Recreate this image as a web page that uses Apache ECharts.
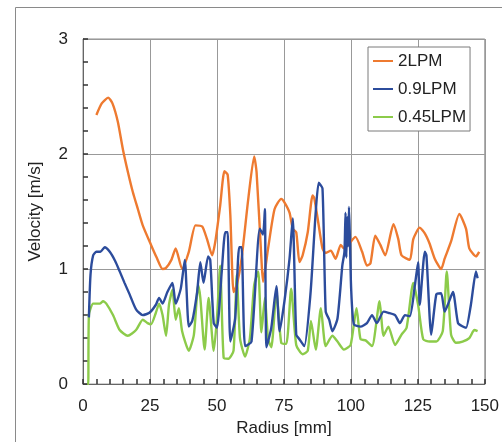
<!DOCTYPE html>
<html><head><meta charset="utf-8">
<script src="https://cdn.jsdelivr.net/npm/echarts@6/dist/echarts.min.js"></script>
<style>html,body{margin:0;padding:0;background:#fff}#c{width:502px;height:442px}</style>
</head><body><div id="c"></div>
<script>
var seriesNames = ['2LPM', '0.9LPM', '0.45LPM'];
var xTicks = [0, 25, 50, 75, 100, 125, 150];
var yTicks = [0, 1, 2, 3];

var r2 = [5, 7, 9.4, 11, 13, 14.9, 16.8, 18.6, 20.5, 22.3, 25.4, 27.5, 29.7, 31, 33, 34.6, 37, 39.5, 42, 44.5, 46.3, 48.2, 49.4, 51.2, 52.8, 54, 55, 56.2, 57.4, 59.2, 61.7, 63.9, 64.8, 66.6, 67.2, 69.1, 71.5, 74, 75.2, 77.1, 78.3, 79.6, 80.8, 82, 83.9, 85.7, 86.3, 87.6, 89.4, 90.6, 92.5, 94.3, 96.2, 97.4, 99.3, 101.7, 104.2, 106, 107.3, 109.1, 111, 112.8, 115.9, 117.7, 118.9, 122, 123.3, 125.7, 127.6, 129.4, 131.3, 133.7, 135, 137.4, 140.5, 143, 144.2, 146.7, 147.9];
var v2 = [2.34, 2.44, 2.49, 2.44, 2.28, 2.04, 1.84, 1.67, 1.52, 1.38, 1.21, 1.1, 1.0, 1.01, 1.08, 1.18, 1.0, 1.15, 1.38, 1.37, 1.26, 1.12, 1.24, 1.55, 1.85, 1.82, 1.47, 0.8, 0.86, 1.09, 1.61, 1.98, 1.84, 1.09, 0.89, 1.18, 1.52, 1.61, 1.58, 1.49, 1.35, 1.32, 1.06, 1.12, 1.32, 1.64, 1.62, 1.44, 1.18, 1.14, 1.16, 1.09, 1.21, 1.18, 1.22, 1.28, 1.15, 1.03, 1.05, 1.29, 1.21, 1.12, 1.39, 1.26, 1.12, 1.08, 1.26, 1.36, 1.31, 1.22, 1.09, 1.0, 1.09, 1.24, 1.48, 1.35, 1.18, 1.11, 1.15];

var r09 = [2.2, 2.8, 3.8, 5, 6.5, 8.1, 10, 12, 13.7, 15.5, 17.4, 19.8, 22.3, 24.8, 27.2, 28.4, 29.7, 31.5, 33.4, 34.6, 36.5, 38, 39.5, 40.8, 42.6, 43.8, 45, 46.7, 47.5, 48.8, 50, 51.8, 53.1, 54, 55, 56.8, 58.3, 59.2, 60.5, 62.9, 66, 67.2, 67.9, 68.5, 70.3, 72.2, 73.4, 75.2, 77.1, 78.3, 79.6, 80.8, 82.6, 84.9, 86.8, 88, 89.4, 90.6, 91.9, 93.1, 95, 96.8, 97.6, 98, 98.3, 98.6, 99, 99.3, 99.6, 100.1, 101.1, 103.6, 106, 107.9, 109.7, 112.2, 114, 116.5, 118.3, 120.2, 122, 123.9, 125.1, 125.7, 127.6, 128.2, 130, 131.9, 133.7, 135, 136.2, 138.1, 140, 141.8, 143, 144.8, 146.7, 147.3];
var v09 = [0.58, 0.95, 1.12, 1.15, 1.15, 1.19, 1.15, 1.07, 0.98, 0.88, 0.78, 0.65, 0.6, 0.62, 0.69, 0.75, 0.7, 0.8, 0.88, 0.7, 0.83, 1.08, 0.5, 0.55, 0.8, 1.06, 0.88, 1.11, 1.08, 0.53, 0.49, 0.98, 1.32, 1.32, 0.37, 0.57, 1.19, 1.19, 0.33, 0.37, 1.35, 1.3, 1.52, 0.32, 0.49, 0.85, 0.46, 0.72, 1.09, 1.44, 0.43, 0.39, 0.33, 0.78, 1.47, 1.75, 1.7, 0.63, 0.56, 0.46, 0.57, 1.03, 1.15, 1.49, 1.1, 1.45, 1.2, 1.54, 1.3, 0.83, 0.52, 0.5, 0.53, 0.6, 0.53, 0.63, 0.62, 0.6, 0.53, 0.6, 0.59, 0.86, 1.06, 0.69, 1.15, 1.12, 0.43, 0.78, 0.79, 0.63, 0.69, 0.8, 0.53, 0.5, 0.49, 0.69, 0.98, 0.92];

var r045 = [1.6, 1.96, 2.2, 3.8, 6.3, 7.5, 8.7, 11.2, 13.7, 16.7, 19.8, 22.3, 24.1, 25.4, 27.2, 28.4, 29.7, 31, 32.1, 33.4, 34.6, 35.8, 37, 39.5, 41.4, 43, 43.8, 45.4, 46.9, 48.8, 50, 51.2, 52.5, 54.3, 56.2, 57.4, 58.6, 60.5, 62.3, 63.9, 65.4, 66.6, 67.9, 69.1, 70.3, 72.2, 74, 75.9, 77.7, 79.6, 82, 83.9, 85.1, 86.9, 88.8, 90.6, 93.1, 95, 97.4, 99.9, 102.1, 103.6, 105.5, 107.9, 110.7, 112.2, 114, 116.5, 118.9, 120.8, 123.3, 125.1, 127, 129.4, 131.9, 134.3, 135.8, 137.4, 139.2, 141.7, 144.2, 146.1, 147.3];
var v045 = [0, 0.0, 0.6, 0.7, 0.7, 0.72, 0.7, 0.6, 0.47, 0.42, 0.47, 0.56, 0.53, 0.52, 0.62, 0.7, 0.6, 0.42, 0.69, 0.82, 0.56, 0.66, 0.46, 0.29, 0.43, 0.86, 0.75, 0.3, 0.75, 0.29, 0.57, 1.03, 0.23, 0.22, 0.29, 0.95, 0.4, 0.24, 0.4, 0.86, 0.98, 0.45, 0.75, 0.39, 0.32, 0.8, 0.36, 0.35, 0.83, 0.34, 0.26, 0.29, 0.55, 0.3, 0.66, 0.33, 0.42, 0.37, 0.3, 0.34, 0.66, 0.39, 0.38, 0.33, 0.72, 0.42, 0.5, 0.34, 0.43, 0.49, 0.88, 0.69, 0.39, 0.37, 0.37, 0.46, 0.98, 0.43, 0.36, 0.37, 0.4, 0.47, 0.46];

function pairs(xs, ys) { return xs.map(function (x, i) { return [x, ys[i]]; }); }

var colors = ['#EE7A30', '#2C4C9C', '#8CCB4A'];
var font = 'Liberation Sans, Arial, sans-serif';
var tickStyle = {color: '#333', width: 1.5};
var chart = echarts.init(document.getElementById('c'), null, {renderer: 'canvas'});
chart.setOption({
  animation: false,
  backgroundColor: '#fff',
  color: colors,
  graphic: [{type: 'rect', shape: {x: 15.5, y: 7.5, width: 600, height: 600}, style: {fill: 'none', stroke: '#8a8a8a', lineWidth: 1}, z: -1}],
  grid: {left: 83, top: 39, right: 13, bottom: 55, show: true, borderColor: '#8c8c8c', borderWidth: 1},
  legend: {
    orient: 'vertical', left: 368, top: 47,
    backgroundColor: '#fff', borderColor: '#7a7a7a', borderWidth: 1,
    padding: [4, 4, 4, 5], itemGap: 8, itemWidth: 20, itemHeight: 2, icon: 'rect',
    textStyle: {fontFamily: font, fontSize: 17, lineHeight: 20, color: '#222'},
    data: seriesNames
  },
  xAxis: [{
    type: 'value', min: 0, max: 150, interval: 25,
    name: 'Radius [mm]', nameLocation: 'middle', nameGap: 35,
    nameTextStyle: {fontFamily: font, fontSize: 17, color: '#222'},
    axisLine: {lineStyle: {color: '#666'}},
    axisTick: {show: false},
    axisLabel: {fontFamily: font, fontSize: 17, color: '#222', margin: 14, formatter: function (v) { return xTicks.indexOf(v) >= 0 ? String(v) : ''; }},
    splitLine: {show: true, lineStyle: {color: '#999', width: 1}}
  }, {
    type: 'value', min: 0, max: 150, interval: 5, position: 'bottom',
    axisLine: {show: false},
    axisTick: {show: true, inside: true, length: 5, lineStyle: tickStyle},
    axisLabel: {show: false}, splitLine: {show: false}
  }],
  yAxis: [{
    type: 'value', min: 0, max: 3, interval: 1,
    name: 'Velocity [m/s]', nameLocation: 'middle', nameGap: 39,
    nameTextStyle: {fontFamily: font, fontSize: 17, color: '#222'},
    axisLine: {show: true, lineStyle: {color: '#666'}},
    axisTick: {show: false},
    axisLabel: {fontFamily: font, fontSize: 17, color: '#222', margin: 15, formatter: function (v) { return yTicks.indexOf(v) >= 0 ? String(v) : ''; }},
    splitLine: {show: true, lineStyle: {color: '#999', width: 1}}
  }, {
    type: 'value', min: 0, max: 3, interval: 0.2, position: 'left',
    axisLine: {show: false},
    axisTick: {show: true, inside: true, length: 5, lineStyle: tickStyle},
    axisLabel: {show: false}, splitLine: {show: false}
  }],
  series: [
    {name: seriesNames[0], type: 'line', data: pairs(r2, v2), symbol: 'none', smooth: 0.2, lineStyle: {width: 2.4, color: colors[0]}, z: 3},
    {name: seriesNames[1], type: 'line', data: pairs(r09, v09), symbol: 'none', smooth: 0.2, lineStyle: {width: 2.4, color: colors[1]}, z: 4},
    {name: seriesNames[2], type: 'line', data: pairs(r045, v045), symbol: 'none', smooth: 0.2, lineStyle: {width: 2.4, color: colors[2]}, z: 2}
  ]
});
</script></body></html>
